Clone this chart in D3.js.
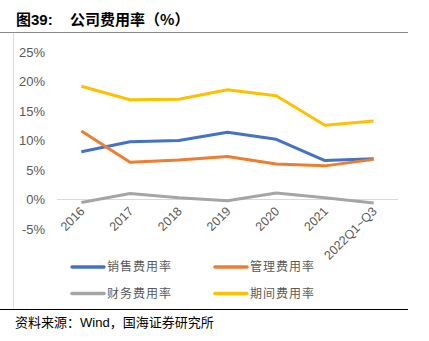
<!DOCTYPE html>
<html><head><meta charset="utf-8">
<script src="https://cdn.jsdelivr.net/npm/d3@7"></script>
<style>body{margin:0;background:#fff}svg{display:block}</style>
</head><body><svg id="c" width="429" height="341"></svg>
<script>
const categories = ["2016","2017","2018","2019","2020","2021","2022Q1~Q3"];
const sales   = [8.1, 9.8, 10.0, 11.4, 10.2, 6.6, 6.9];
const admin   = [11.6, 6.3, 6.7, 7.3, 6.0, 5.7, 6.8];
const finance = [-0.5, 1.0, 0.3, -0.2, 1.1, 0.3, -0.6];
const period  = [19.2, 16.9, 17.0, 18.6, 17.6, 12.6, 13.3];
const seriesNames = ["销售费用率","管理费用率","财务费用率","期间费用率"];
const yTicks = [-5, 0, 5, 10, 15, 20, 25];

const colors = ["#4472C4","#ED7D31","#A5A5A5","#FFC000"];
const seriesData = [sales, admin, finance, period];
const font = "'Liberation Sans', Arial, 'Noto Sans CJK SC', sans-serif";
const cjk = "'Noto Sans CJK SC', sans-serif";

const svg = d3.select("#c");
// title
const t = svg.append("text").attr("x", 16).attr("y", 25).attr("font-size", 15).attr("font-weight", "bold").attr("fill", "#000");
t.append("tspan").attr("font-family", cjk).text("图");
t.append("tspan").attr("font-family", font).text("39:");
t.append("tspan").attr("x", 70).attr("font-family", cjk).text("公司费用率（%）");

// frame lines
svg.append("line").attr("x1", 0).attr("x2", 408).attr("y1", 32.5).attr("y2", 32.5).attr("stroke", "#888").attr("stroke-width", 1);
svg.append("line").attr("x1", 13.5).attr("x2", 13.5).attr("y1", 33).attr("y2", 309).attr("stroke", "#ddd").attr("stroke-width", 1);
svg.append("line").attr("x1", 0).attr("x2", 408).attr("y1", 309.5).attr("y2", 309.5).attr("stroke", "#000").attr("stroke-width", 1);

const x = d3.scalePoint().domain(categories).range([57, 398]).padding(0.5);
const y = d3.scaleLinear().domain([-5, 25]).range([229, 52]);

// y labels
svg.append("g").selectAll("text").data(yTicks).join("text")
  .attr("x", 45).attr("y", d => y(d)).attr("dy", "0.35em").attr("text-anchor", "end")
  .attr("font-family", font).attr("font-size", 13).attr("fill", "#595959")
  .text(d => d + "%");

// zero line
svg.append("line").attr("x1", 57).attr("x2", 398).attr("y1", y(0)).attr("y2", y(0)).attr("stroke", "#d9d9d9").attr("stroke-width", 1);

// x labels
svg.append("g").selectAll("text").data(categories).join("text")
  .attr("transform", d => `translate(${x(d) + 4},${212}) rotate(-45)`)
  .attr("text-anchor", "end").attr("font-family", font).attr("font-size", 12.5).attr("fill", "#595959")
  .text(d => d);

// lines
const line = d3.line().x((d, i) => x(categories[i])).y(d => y(d));
seriesData.forEach((s, k) => {
  svg.append("path").datum(s).attr("d", line).attr("fill", "none")
    .attr("stroke", colors[k]).attr("stroke-width", 3).attr("stroke-linejoin", "round");
});

// legend
const legPos = [[72, 267], [215, 267], [72, 293.5], [215, 293.5]];
seriesNames.forEach((n, k) => {
  const [lx, ly] = legPos[k];
  svg.append("line").attr("x1", lx).attr("x2", lx + 32).attr("y1", ly).attr("y2", ly)
    .attr("stroke", colors[k]).attr("stroke-width", 3.5).attr("stroke-linecap", "round");
  svg.append("text").attr("x", lx + 35).attr("y", ly).attr("dy", "0.36em")
    .attr("font-family", cjk).attr("font-size", 12).attr("letter-spacing", 1).attr("fill", "#595959").text(n);
});

// footer
const f = svg.append("text").attr("x", 15).attr("y", 327).attr("font-size", 13).attr("fill", "#000");
f.append("tspan").attr("font-family", cjk).text("资料来源：");
f.append("tspan").attr("font-family", font).text("Wind");
f.append("tspan").attr("font-family", cjk).text("，国海证券研究所");
</script></body></html>
